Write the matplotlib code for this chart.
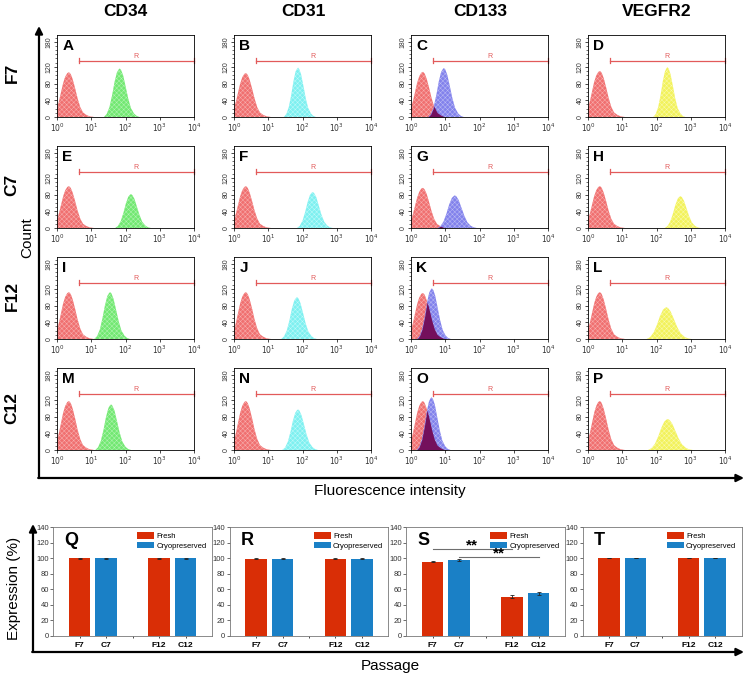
import numpy as np
import matplotlib
matplotlib.use('Agg')
import matplotlib.pyplot as plt
from matplotlib.ticker import MultipleLocator, LogLocator, NullFormatter

plt.rcParams['font.family'] = ['Liberation Sans', 'DejaVu Sans']
plt.rcParams['hatch.linewidth'] = 0.35

W, H = 746, 676

# ---------------- data ----------------
markers = ['CD34', 'CD31', 'CD133', 'VEGFR2']
passages = ['F7', 'C7', 'F12', 'C12']
panel_letters = ['A', 'B', 'C', 'D', 'E', 'F', 'G', 'H',
                 'I', 'J', 'K', 'L', 'M', 'N', 'O', 'P']

# stained-population peak position (log10 fluorescence), per passage row x marker column
stain_peak = [[1.83, 1.87, 0.96, 2.32],
              [2.16, 2.30, 1.28, 2.70],
              [1.55, 1.84, 0.61, 2.29],
              [1.58, 1.87, 0.60, 2.33]]
# stained-population peak height (counts)
stain_height = [[116, 118, 117, 119],
                [81, 86, 78, 76],
                [112, 100, 121, 76],
                [109, 97, 126, 74]]
# relative spread of stained histogram
stain_width = [[1.0, 0.9, 1.0, 0.9],
               [1.0, 1.0, 1.1, 1.0],
               [1.0, 1.0, 0.95, 1.25],
               [1.0, 1.0, 0.95, 1.25]]
# isotype control peak height (counts)
control_height = [[107, 105, 108, 110],
                   [100, 100, 96, 100],
                   [112, 112, 110, 112],
                   [117, 117, 117, 117]]

# histogram outline (offset in log10 units, relative height)
shape_offsets = [-0.46, -0.38, -0.30, -0.22, -0.15, -0.08, -0.03, 0.0, 0.04,
                 0.10, 0.17, 0.25, 0.33, 0.42, 0.50, 0.58]
shape_rel = [0.0, 0.06, 0.20, 0.45, 0.72, 0.92, 0.98, 1.0, 0.97,
             0.86, 0.64, 0.38, 0.18, 0.07, 0.02, 0.0]
control_x = [0.0, 0.06, 0.12, 0.18, 0.24, 0.30, 0.35, 0.40, 0.46, 0.53,
             0.60, 0.68, 0.76, 0.85, 0.95, 1.08]
control_rel = [0.20, 0.36, 0.56, 0.76, 0.90, 0.98, 1.0, 0.96, 0.84, 0.64,
               0.42, 0.22, 0.10, 0.05, 0.015, 0.0]

gate_start = 0.63
gate_level = 135
count_ticks = [0, 40, 80, 120, 180]
x_ticks = [1, 10, 100, 1000, 10000]
x_ticklabels = ['$10^0$', '$10^1$', '$10^2$', '$10^3$', '$10^4$']

bar_letters = ['Q', 'R', 'S', 'T']
bar_categories = ['F7', 'C7', 'F12', 'C12']
expression = [[99.8, 99.6, 99.8, 99.7],
              [99.3, 99.2, 99.5, 99.4],
              [95.3, 97.2, 50.5, 54.6],
              [99.9, 99.8, 99.9, 99.8]]
expression_err = [[0.3, 0.3, 0.3, 0.3],
                  [0.5, 0.5, 0.4, 0.4],
                  [0.8, 1.3, 2.0, 2.2],
                  [0.2, 0.2, 0.2, 0.2]]
series_names = ['Fresh', 'Cryopreserved']
# significance brackets in panel S: (start category, end category, level)
sig_pairs = [('F7', 'F12', 112), ('C7', 'C12', 102)]

# ---------------- styles / layout ----------------
red_fill = ('#f07070', '#f8b0b0')
stain_colors = [('#72e872', '#b4f4b4'), ('#7ef0f0', '#c0fafa'),
                ('#8282ec', '#bcbcf4'), ('#f2f25c', '#fafaae')]
overlap_color = '#74105c'
gate_color = '#e25a5a'
fresh_color = '#d92e06'
cryo_color = '#1a80c6'

hist_left = [57, 234, 411, 588]
hist_top = [35, 146, 257, 368]
hist_w, hist_h = 137, 82
bar_left = [53, 229.5, 406, 582.5]
bar_top = 527
bar_w, bar_h = 159, 109
bar_pos = [1, 2, 4, 5]

fig = plt.figure(figsize=(W / 100, H / 100), dpi=100)


def px_axes(l, t, w, h):
    return fig.add_axes([l / W, 1 - (t + h) / H, w / W, h / H])


def textured_fill(ax, x, y, colors):
    face, hatch_col = colors
    ax.fill_between(x, 0, y, facecolor=face, edgecolor=hatch_col,
                    hatch='xxxxxxx', lw=0)


grid = np.linspace(0, 4, 1601)
for r in range(4):
    for c in range(4):
        ax = px_axes(hist_left[c], hist_top[r], hist_w, hist_h)
        ctrl = np.interp(grid, control_x,
                         np.array(control_rel) * control_height[r][c],
                         left=0, right=0)
        sx = stain_peak[r][c] + np.array(shape_offsets) * stain_width[r][c]
        st = np.interp(grid, sx, np.array(shape_rel) * stain_height[r][c],
                       left=0, right=0)
        X = 10 ** grid
        textured_fill(ax, X, ctrl, red_fill)
        textured_fill(ax, X, st, stain_colors[c])
        if c == 2:
            ax.fill_between(X, 0, np.minimum(ctrl, st), color=overlap_color, lw=0)
        ax.set_xscale('log')
        ax.set_xlim(1, 1e4)
        ax.set_ylim(0, 196)
        # gate
        gx0 = 10 ** gate_start
        ax.plot([gx0, 1e4], [gate_level, gate_level], color=gate_color, lw=0.9,
                clip_on=False)
        for gx in (gx0, 1e4):
            ax.plot([gx, gx], [gate_level - 6, gate_level + 6], color=gate_color,
                    lw=0.9, clip_on=False)
        ax.text(10 ** ((gate_start + 4) / 2), gate_level + 2, 'R',
                color=gate_color, fontsize=5, ha='center', va='bottom')
        # ticks
        ax.set_yticks(count_ticks)
        ax.set_yticklabels([str(v) for v in count_ticks], rotation=90,
                           fontsize=5, va='center', color='#333333')
        ax.yaxis.set_minor_locator(MultipleLocator(10))
        ax.set_xticks(x_ticks)
        ax.set_xticklabels(x_ticklabels, fontsize=5.5, color='#333333')
        ax.xaxis.set_minor_locator(LogLocator(base=10, subs=np.arange(2, 10)))
        ax.xaxis.set_minor_formatter(NullFormatter())
        ax.tick_params(which='major', length=2.2, width=0.5, pad=1)
        ax.tick_params(which='minor', length=1.2, width=0.4)
        for s in ax.spines.values():
            s.set_linewidth(0.6)
        ax.text(0.04, 0.86, panel_letters[r * 4 + c], transform=ax.transAxes,
                fontsize=11, fontweight='bold', va='center', ha='left')

# bar panels
for i in range(4):
    ax = px_axes(bar_left[i], bar_top, bar_w, bar_h)
    vals = expression[i]
    errs = expression_err[i]
    ax.bar(bar_pos[0::2], vals[0::2], width=0.8, color=fresh_color,
           label=series_names[0])
    ax.bar(bar_pos[1::2], vals[1::2], width=0.8, color=cryo_color,
           label=series_names[1])
    ax.errorbar(bar_pos, vals, yerr=errs, fmt='none', ecolor='#222222',
                elinewidth=0.6, capsize=1.5, capthick=0.6)
    ax.set_xlim(0, 6)
    ax.set_ylim(0, 140)
    ax.set_yticks(np.arange(0, 141, 20))
    ax.tick_params(axis='y', labelsize=5.5, length=2, width=0.5, pad=1,
                   colors='#333333')
    ax.set_xticks([1, 2, 3, 4, 5])
    ax.set_xticklabels([bar_categories[0], bar_categories[1], '',
                        bar_categories[2], bar_categories[3]],
                       fontsize=6, fontweight='bold')
    ax.tick_params(axis='x', length=1.5, width=0.5, pad=3)
    for s in ax.spines.values():
        s.set_linewidth(0.6)
        s.set_color('#777777')
    ax.text(0.07, 0.88, bar_letters[i], transform=ax.transAxes, fontsize=13,
            fontweight='bold', va='center', ha='left')
    ax.legend(loc='upper right', fontsize=5.5, frameon=False,
              handlelength=2.2, handleheight=1.0, labelspacing=0.15,
              borderaxespad=0.3, handletextpad=0.3)
    if bar_letters[i] == 'S':
        for a, b, lvl in sig_pairs:
            xa = bar_pos[bar_categories.index(a)]
            xb = bar_pos[bar_categories.index(b)]
            ax.plot([xa, xb], [lvl, lvl], color='#6e6e6e', lw=0.8)
            ax.text((xa + xb) / 2, lvl + 13, '**', ha='center', va='top',
                    fontsize=11, fontweight='bold')

# overlay for axis arrows and labels
ov = fig.add_axes([0, 0, 1, 1])
ov.set_xlim(0, W)
ov.set_ylim(H, 0)
ov.axis('off')
ov.patch.set_visible(False)

arrow = dict(arrowstyle='-|>', lw=1.6, color='black', mutation_scale=11,
             shrinkA=0, shrinkB=0)
ov.annotate('', xy=(39, 26), xytext=(39, 478), arrowprops=arrow)
ov.annotate('', xy=(744, 478), xytext=(38.2, 478), arrowprops=arrow)
ov.annotate('', xy=(33, 524), xytext=(33, 652), arrowprops=arrow)
ov.annotate('', xy=(744, 652), xytext=(32.2, 652), arrowprops=arrow)

col_x = [125, 303, 480, 657]
for x, m in zip(col_x, markers):
    ov.text(x, 12, m, fontsize=12.5, fontweight='bold', ha='center', va='center')
row_y = [73, 185, 296, 408]
for y, p in zip(row_y, passages):
    ov.text(12, y, p, fontsize=12.5, fontweight='bold', rotation=90,
            ha='center', va='center')
ov.text(27, 238, 'Count', fontsize=11, rotation=90, ha='center', va='center')
ov.text(390, 491, 'Fluorescence intensity', fontsize=11, ha='center',
        va='center')
ov.text(14, 588, 'Expression (%)', fontsize=11, rotation=90, ha='center',
        va='center')
ov.text(390, 666, 'Passage', fontsize=11, ha='center', va='center')

fig.savefig('out.png', dpi=100)
